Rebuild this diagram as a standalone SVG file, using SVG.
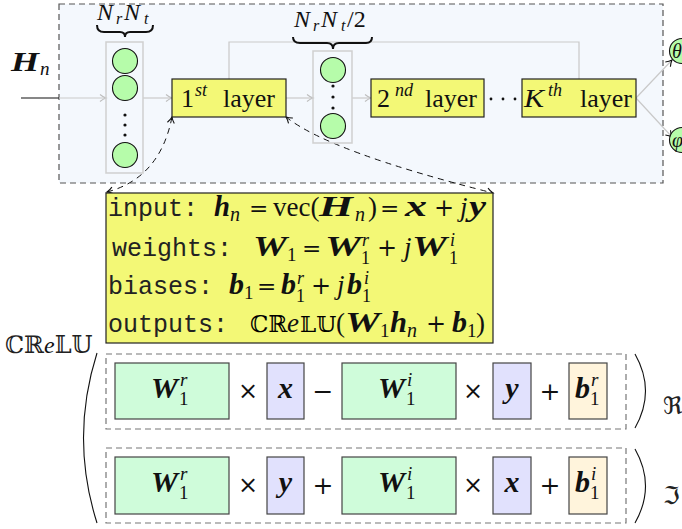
<svg xmlns="http://www.w3.org/2000/svg" width="682" height="529" viewBox="0 0 682 529">
  <style>
    .m { font-family: "Liberation Serif", "DejaVu Serif", serif; fill: #111; }
    .op { font-family: "DejaVu Serif", "Liberation Serif", serif; fill: #111; }
    .bi { font-family: "Liberation Serif", "DejaVu Serif", serif; font-weight: bold; font-style: italic; fill: #111; }
    .it { font-style: italic; }
    .tt { font-family: "Liberation Mono", "DejaVu Sans Mono", monospace; fill: #222; }
    .bb { font-family: "DejaVu Serif", "DejaVu Sans", serif; }
    .gline { fill: none; stroke: #c9c9c9; stroke-width: 1.2; }
    .col { fill: none; stroke: #cfcfcf; stroke-width: 1.5; }
    .neuron { fill: #b6fcaa; stroke: #111; stroke-width: 1.1; }
    .layer { fill: #f3f876; stroke: #222; stroke-width: 1.2; }
    .wbox { fill: #cffcda; stroke: #444; stroke-width: 1.2; }
    .vbox { fill: #e1e1fd; stroke: #444; stroke-width: 1.2; }
    .bbox { fill: #fff4dc; stroke: #444; stroke-width: 1.2; }
    .dash { fill: none; stroke: #777; stroke-width: 1.2; stroke-dasharray: 6 4; }
    .ddash { fill: none; stroke: #111; stroke-width: 1; stroke-dasharray: 6 5; }
    .dot { fill: #111; }
    .paren { fill: none; stroke: #111; stroke-width: 1.1; }
  </style>
  <defs>
    <marker id="ag" markerWidth="10" markerHeight="10" refX="8" refY="5" orient="auto" markerUnits="userSpaceOnUse">
      <path d="M2,1.5 Q5,4 8,5 Q5,6 2,8.5" fill="none" stroke="#bdbdbd" stroke-width="1.1"/>
    </marker>
    <marker id="ak" markerWidth="10" markerHeight="10" refX="8" refY="5" orient="auto-start-reverse" markerUnits="userSpaceOnUse">
      <path d="M2,1.5 Q5,4 8,5 Q5,6 2,8.5" fill="none" stroke="#111" stroke-width="1.1"/>
    </marker>
  </defs>

  <!-- network frame -->
  <rect x="59" y="4" width="604" height="179" fill="#f4f8fd" stroke="#555" stroke-width="1.2" stroke-dasharray="6 4"/>

  <!-- input label -->
  <text class="bi" x="11" y="71" font-size="28" textLength="28" lengthAdjust="spacingAndGlyphs">H</text>
  <text class="m it" x="40" y="75" font-size="19">n</text>

  <!-- connectors -->
  <g id="connectors">
    <line x1="21" y1="98" x2="59" y2="98" stroke="#111" stroke-width="1.1"/>
    <line class="gline" x1="59" y1="98" x2="106" y2="98" marker-end="url(#ag)"/>
    <line class="gline" x1="143" y1="98" x2="172" y2="98" marker-end="url(#ag)"/>
    <line class="gline" x1="286" y1="98" x2="313" y2="98" marker-end="url(#ag)"/>
    <line class="gline" x1="352" y1="98" x2="371" y2="98" marker-end="url(#ag)"/>
    <path class="gline" d="M229,79 V42 H579 V79"/>
    <path class="gline" d="M636,98 L672,60" marker-end="url(#ak)"/>
    <path class="gline" d="M636,98 L672,137" marker-end="url(#ak)"/>
    <path class="ddash" d="M107,192 Q160,178 172,117" marker-start="url(#ak)" marker-end="url(#ak)"/>
    <path class="ddash" d="M286,117 Q330,152 493,193" marker-start="url(#ak)" marker-end="url(#ak)"/>
  </g>

  <!-- input layer column -->
  <g id="input-column">
    <rect class="col" x="106" y="42" width="37" height="131"/>
    <circle class="neuron" cx="125" cy="61" r="12.5"/>
    <circle class="neuron" cx="125" cy="88" r="12.5"/>
    <circle class="dot" cx="125" cy="115" r="1.6"/>
    <circle class="dot" cx="125" cy="125" r="1.6"/>
    <circle class="dot" cx="125" cy="135" r="1.6"/>
    <circle class="neuron" cx="125" cy="155" r="12.5"/>
    <path d="M97,25 Q97,32 104,32 H120 Q125,32 125,37 Q125,32 130,32 H146 Q153,32 153,25" fill="none" stroke="#111" stroke-width="2"/>
    <text class="m it" font-size="24"><tspan x="97" y="20">N</tspan><tspan font-size="16" x="116" y="24">r</tspan><tspan x="124" y="20">N</tspan><tspan font-size="16" x="144" y="24">t</tspan></text>
  </g>

  <g id="layer-1">
    <rect class="layer" x="172" y="79" width="114" height="38"/>
    <text class="m" font-size="26"><tspan x="181" y="107">1</tspan><tspan class="it" font-size="18" x="195" y="96">st</tspan><tspan x="223" y="107">layer</tspan></text>
  </g>

  <!-- hidden column -->
  <g id="hidden-column">
    <rect class="col" x="313" y="51" width="39" height="92"/>
    <circle class="neuron" cx="333" cy="70" r="12.5"/>
    <circle class="dot" cx="333" cy="86" r="1.6"/>
    <circle class="dot" cx="333" cy="97" r="1.6"/>
    <circle class="dot" cx="333" cy="108" r="1.6"/>
    <circle class="neuron" cx="333" cy="126" r="12.5"/>
    <path d="M293,37 Q293,43 300,43 H327 Q333,43 333,49 Q333,43 339,43 H366 Q372,43 372,37" fill="none" stroke="#111" stroke-width="2"/>
    <text class="m it" font-size="24"><tspan x="294" y="27">N</tspan><tspan font-size="16" x="313" y="31">r</tspan><tspan x="321" y="27">N</tspan><tspan font-size="16" x="341" y="31">t</tspan><tspan x="347" y="27" font-style="normal">/2</tspan></text>
  </g>

  <g id="layer-2">
    <rect class="layer" x="371" y="79" width="113" height="38"/>
    <text class="m" font-size="26"><tspan x="377" y="107">2</tspan><tspan class="it" font-size="18" x="395" y="96">nd</tspan><tspan x="425" y="107">layer</tspan></text>
  </g>

  <circle class="dot" cx="491" cy="99" r="1.4"/>
  <circle class="dot" cx="503" cy="99" r="1.4"/>
  <circle class="dot" cx="515" cy="99" r="1.4"/>

  <g id="layer-K">
    <rect class="layer" x="522" y="79" width="114" height="38"/>
    <text class="m it" x="524" y="107" font-size="26" textLength="20" lengthAdjust="spacingAndGlyphs">K</text>
    <text class="m" font-size="26"><tspan class="it" font-size="18" x="548" y="96">th</tspan><tspan x="580" y="107">layer</tspan></text>
  </g>

  <g id="out-theta">
    <circle class="neuron" cx="682" cy="51" r="12.5"/>
    <text class="m it" x="672" y="58" font-size="20">θ</text>
  </g>
  <g id="out-phi">
    <circle class="neuron" cx="682" cy="140" r="12.5"/>
    <text class="m it" x="672" y="147" font-size="20">φ</text>
  </g>

  <!-- first layer details -->
  <g id="layer-detail">
    <rect class="layer" x="106" y="193" width="387" height="150"/>

    <!-- input -->
    <text class="tt" x="108" y="216" font-size="25">input:</text>
    <text class="bi" x="214" y="216" font-size="29" textLength="16" lengthAdjust="spacingAndGlyphs">h</text>
    <text class="m it" x="230" y="221" font-size="20">n</text>
    <text class="op" x="249" y="216" font-size="23">=</text>
    <text class="m" x="273" y="216" font-size="27">vec(</text>
    <text class="bi" x="319" y="216" font-size="29" textLength="34" lengthAdjust="spacingAndGlyphs">H</text>
    <text class="m it" x="355" y="221" font-size="20">n</text>
    <text class="m" x="368" y="216" font-size="27">)</text>
    <text class="op" x="380" y="216" font-size="23">=</text>
    <text class="bi" x="405" y="216" font-size="29" textLength="22" lengthAdjust="spacingAndGlyphs">x</text>
    <text class="op" x="434" y="216" font-size="24">+</text>
    <text class="m it" x="460" y="216" font-size="27">j</text>
    <text class="bi" x="469" y="216" font-size="29" textLength="17" lengthAdjust="spacingAndGlyphs">y</text>

    <!-- weights -->
    <text class="tt" x="112" y="256" font-size="25">weights:</text>
    <text class="bi" x="253" y="256" font-size="29" textLength="34" lengthAdjust="spacingAndGlyphs">W</text>
    <text class="m" x="287" y="261" font-size="19">1</text>
    <text class="op" x="302" y="256" font-size="23">=</text>
    <text class="bi" x="325" y="256" font-size="29" textLength="36" lengthAdjust="spacingAndGlyphs">W</text>
    <text class="m it" x="362" y="246" font-size="18">r</text>
    <text class="m" x="361" y="264" font-size="18">1</text>
    <text class="op" x="377" y="256" font-size="24">+</text>
    <text class="m it" x="404" y="256" font-size="27">j</text>
    <text class="bi" x="412" y="256" font-size="29" textLength="35" lengthAdjust="spacingAndGlyphs">W</text>
    <text class="m it" x="450" y="246" font-size="18">i</text>
    <text class="m" x="449" y="264" font-size="18">1</text>

    <!-- biases -->
    <text class="tt" x="108" y="294" font-size="25">biases:</text>
    <text class="bi" x="229" y="294" font-size="29" textLength="15" lengthAdjust="spacingAndGlyphs">b</text>
    <text class="m" x="244" y="299" font-size="19">1</text>
    <text class="op" x="257" y="294" font-size="23">=</text>
    <text class="bi" x="281" y="294" font-size="29" textLength="15" lengthAdjust="spacingAndGlyphs">b</text>
    <text class="m it" x="297" y="284" font-size="18">r</text>
    <text class="m" x="296" y="302" font-size="18">1</text>
    <text class="op" x="311" y="294" font-size="24">+</text>
    <text class="m it" x="337" y="294" font-size="27">j</text>
    <text class="bi" x="347" y="294" font-size="29" textLength="15" lengthAdjust="spacingAndGlyphs">b</text>
    <text class="m it" x="364" y="284" font-size="18">i</text>
    <text class="m" x="362" y="302" font-size="18">1</text>

    <!-- outputs -->
    <text class="tt" x="108" y="332" font-size="25">outputs:</text>
    <text class="bb" x="250" y="332" font-size="23">ℂℝ</text>
    <text class="m it" x="287" y="332" font-size="27">e</text>
    <text class="bb" x="300" y="332" font-size="23">𝕃𝕌</text>
    <text class="m" x="336" y="332" font-size="27">(</text>
    <text class="bi" x="345" y="332" font-size="29" textLength="35" lengthAdjust="spacingAndGlyphs">W</text>
    <text class="m" x="380" y="337" font-size="19">1</text>
    <text class="bi" x="390" y="332" font-size="29" textLength="17" lengthAdjust="spacingAndGlyphs">h</text>
    <text class="m it" x="407" y="337" font-size="20">n</text>
    <text class="op" x="426" y="332" font-size="24">+</text>
    <text class="bi" x="452" y="332" font-size="29" textLength="15" lengthAdjust="spacingAndGlyphs">b</text>
    <text class="m" x="467" y="337" font-size="19">1</text>
    <text class="m" x="476" y="332" font-size="27">)</text>
  </g>

  <!-- activation decomposition -->
  <text class="bb" x="5" y="353" font-size="24" fill="#222">ℂℝ<tspan class="m it">e</tspan>𝕃𝕌</text>
  <path class="paren" d="M97,353 Q70,438 97,523"/>
  <path class="paren" d="M635,354 Q656,391 635,428"/>
  <path class="paren" d="M635,449 Q656,486 635,523"/>
  <text class="bb" x="663" y="414" font-size="24" fill="#222">ℜ</text>
  <text class="bb" x="663" y="504" font-size="24" fill="#222">ℑ</text>

  <g id="real-part">
    <rect class="dash" x="106" y="354" width="520" height="75"/>
    <rect class="wbox" x="115" y="363" width="114" height="56"/>
    <text class="bi" x="151" y="398" font-size="30" textLength="27" lengthAdjust="spacingAndGlyphs">W</text>
    <text class="m it" x="180" y="386" font-size="19">r</text>
    <text class="m" x="179" y="405" font-size="19">1</text>
    <text class="op" x="248" y="399" font-size="24" text-anchor="middle">×</text>
    <rect class="vbox" x="267" y="363" width="37" height="56"/>
    <text class="bi" x="285.5" y="398" font-size="30" text-anchor="middle">x</text>
    <text class="op" x="323" y="400" font-size="25" text-anchor="middle">−</text>
    <rect class="wbox" x="342" y="363" width="114" height="56"/>
    <text class="bi" x="378" y="398" font-size="30" textLength="27" lengthAdjust="spacingAndGlyphs">W</text>
    <text class="m it" x="407" y="386" font-size="19">i</text>
    <text class="m" x="406" y="405" font-size="19">1</text>
    <text class="op" x="473" y="399" font-size="24" text-anchor="middle">×</text>
    <rect class="vbox" x="493" y="363" width="38" height="56"/>
    <text class="bi" x="512" y="398" font-size="30" text-anchor="middle">y</text>
    <text class="op" x="550" y="400" font-size="25" text-anchor="middle">+</text>
    <rect class="bbox" x="569" y="363" width="38" height="56"/>
    <text class="bi" x="575" y="398" font-size="30">b</text>
    <text class="m it" x="591" y="386" font-size="19">r</text>
    <text class="m" x="590" y="405" font-size="19">1</text>
  </g>

  <g id="imag-part">
    <rect class="dash" x="106" y="448" width="520" height="75"/>
    <rect class="wbox" x="115" y="457" width="114" height="57"/>
    <text class="bi" x="151" y="492" font-size="30" textLength="27" lengthAdjust="spacingAndGlyphs">W</text>
    <text class="m it" x="180" y="480" font-size="19">r</text>
    <text class="m" x="179" y="499" font-size="19">1</text>
    <text class="op" x="248" y="493" font-size="24" text-anchor="middle">×</text>
    <rect class="vbox" x="267" y="457" width="37" height="57"/>
    <text class="bi" x="285.5" y="492" font-size="30" text-anchor="middle">y</text>
    <text class="op" x="323" y="494" font-size="25" text-anchor="middle">+</text>
    <rect class="wbox" x="342" y="457" width="114" height="57"/>
    <text class="bi" x="378" y="492" font-size="30" textLength="27" lengthAdjust="spacingAndGlyphs">W</text>
    <text class="m it" x="407" y="480" font-size="19">i</text>
    <text class="m" x="406" y="499" font-size="19">1</text>
    <text class="op" x="473" y="493" font-size="24" text-anchor="middle">×</text>
    <rect class="vbox" x="493" y="457" width="38" height="57"/>
    <text class="bi" x="512" y="492" font-size="30" text-anchor="middle">x</text>
    <text class="op" x="550" y="494" font-size="25" text-anchor="middle">+</text>
    <rect class="bbox" x="569" y="457" width="38" height="57"/>
    <text class="bi" x="575" y="492" font-size="30">b</text>
    <text class="m it" x="591" y="480" font-size="19">i</text>
    <text class="m" x="590" y="499" font-size="19">1</text>
  </g>
</svg>
